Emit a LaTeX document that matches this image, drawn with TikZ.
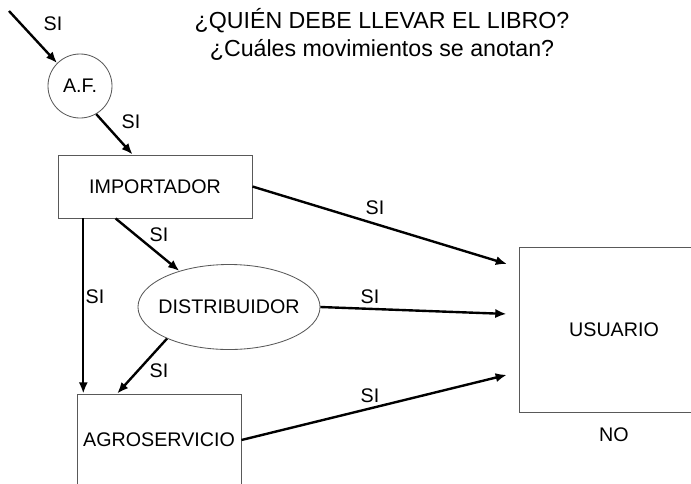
\documentclass[tikz,border=0pt]{standalone}
\usepackage{fontspec}
\setmainfont{Liberation Sans}
\usetikzlibrary{arrows.meta,shapes.geometric}

\begin{document}
\begin{tikzpicture}[x=0.025cm,y=-0.025cm,
  every node/.style={font=\fontsize{14}{20}\selectfont},
  caja/.style={draw=black!65,line width=0.6pt,rectangle,inner sep=0pt},
  flecha/.style={line width=1.7pt,-{Latex[length=8pt,width=6.5pt]}},
  flechau/.style={flecha,shorten >=0.3cm}]
\useasboundingbox (0,0) rectangle (691,483);
\clip (0,0) rectangle (691,483);
\path (382, 34) node[align=center,font=\fontsize{16.5}{20}\selectfont] (titulo) {¿QUIÉN DEBE LLEVAR EL LIBRO?\\¿Cuáles movimientos se anotan?};
\path (  9, 11) coordinate (inicio);
\path ( 80, 86) node[caja,circle,minimum size=1.6cm] (af) {A.F.};
\path (155,186.5) node[caja,minimum width=4.85cm,minimum height=1.575cm] (importador) {IMPORTADOR};
\path (229,307) node[caja,ellipse,minimum width=4.55cm,minimum height=2.125cm] (distribuidor) {\makebox[0pt]{DISTRIBUIDOR}};
\path (159,440) node[caja,minimum width=4.1cm,minimum height=2.3cm] (agroservicio) {AGROSERVICIO};
\path (614,329.5) node[caja,minimum width=4.75cm,minimum height=4.125cm] (usuario) {USUARIO};
\path (614,435) node (no) {NO};
\path ( 53, 24) node (si1) {SI};
\path (131,122) node (si2) {SI};
\path (375,208) node (si3) {SI};
\path ( 95,297) node (si4) {SI};
\path (159,235) node (si5) {SI};
\path (370,297) node (si6) {SI};
\path (159,371) node (si7) {SI};
\path (370,396) node (si8) {SI};
\draw [flecha] (inicio) -- (af.135);
\draw [flecha] (af.-60) -- (importador.125);
\draw [flechau] (importador.east) -- (usuario.147);
\draw [flecha] (importador.204) -- (importador.204 |- agroservicio.north);
\draw [flecha] (importador.219) -- (distribuidor.144);
\draw [flechau] (distribuidor.east) -- (usuario.171);
\draw [flecha] (distribuidor.207) -- (agroservicio.132);
\draw [flechau] (agroservicio.east) -- (usuario.204);
\end{tikzpicture}
\end{document}
